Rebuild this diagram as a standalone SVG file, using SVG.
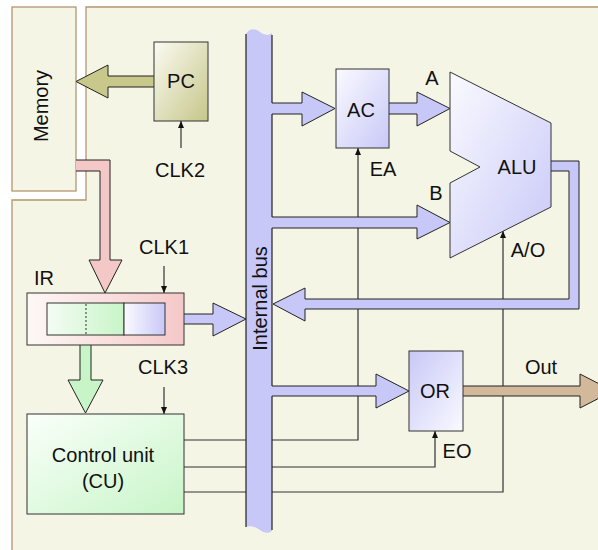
<svg xmlns="http://www.w3.org/2000/svg" width="598" height="550" viewBox="0 0 598 550">
<defs>
<style>
.t{font-family:"Liberation Sans",Arial,Helvetica,sans-serif;font-size:20px;fill:#111;text-anchor:middle}
.box{stroke:#333;stroke-width:1}
.ln{fill:none;stroke:#333;stroke-width:1.2}
.arr{stroke:#222;stroke-width:1;stroke-linejoin:miter}
</style>
<linearGradient id="gPC" x1="0" y1="0" x2="1" y2="1"><stop offset="0" stop-color="#fbfbf3"/><stop offset="1" stop-color="#c6c68a"/></linearGradient>
<linearGradient id="gLav" x1="0" y1="0" x2="1" y2="1"><stop offset="0" stop-color="#fafaff"/><stop offset="1" stop-color="#c8c8f8"/></linearGradient>
<linearGradient id="gLavR" x1="0" y1="0" x2="1" y2="1"><stop offset="0" stop-color="#c8c8f8"/><stop offset="1" stop-color="#fafaff"/></linearGradient>
<linearGradient id="gLavH" x1="0" y1="0" x2="1" y2="0"><stop offset="0" stop-color="#fafaff"/><stop offset="1" stop-color="#c8c8f8"/></linearGradient>
<linearGradient id="gPink" x1="0" y1="0" x2="1" y2="0"><stop offset="0" stop-color="#fdf8f6"/><stop offset="1" stop-color="#f5c8c8"/></linearGradient>
<linearGradient id="gGrnH" x1="0" y1="0" x2="1" y2="0"><stop offset="0" stop-color="#f4fcf4"/><stop offset="1" stop-color="#c8f5c8"/></linearGradient>
<linearGradient id="gGrn" x1="0" y1="0" x2="1" y2="1"><stop offset="0" stop-color="#fafffa"/><stop offset="1" stop-color="#c8f5c8"/></linearGradient>
<marker id="ah" markerUnits="userSpaceOnUse" markerWidth="8" markerHeight="8" refX="7" refY="3" orient="auto"><path d="M0,0 L7,3 L0,6 z" fill="#111"/></marker>
</defs>
<rect width="598" height="550" fill="#ffffff"/>
<path d="M86,7 H612 V560 H12 V200 H86 Z" fill="#f5f5e6" stroke="#b49470" stroke-width="1.3"/>

<g id="memory">
<rect x="12" y="7" width="64" height="184" fill="#f5f5e6" stroke="#b49470" stroke-width="1.3"/>
<text class="t" transform="translate(47.5,106) rotate(-90)">Memory</text>
</g>

<g id="connectors">
<path class="ln" d="M184,440 H358 V148" marker-end="url(#ah)"/>
<path class="ln" d="M184,467 H435 V431" marker-end="url(#ah)"/>
<path class="ln" d="M184,492 H503 V231" marker-end="url(#ah)"/>
<path class="ln" d="M164,266 V293" marker-end="url(#ah)"/>
<path class="ln" d="M181,148 V121" marker-end="url(#ah)"/>
<path class="ln" d="M164,387 V414" marker-end="url(#ah)"/>
</g>

<g id="bus">
<path d="M246,34 C250,27 256,29 260,32 C264,35 268,36 272,33 L272,531 C268,534 264,533 260,530 C256,527 250,525 246,527 Z" fill="#c8c8f8"/>
<path d="M246,34 V527 M272,35 V103 M272,114 V217 M272,228 V386 M272,396 V530" fill="none" stroke="#222" stroke-width="1.2"/>
<text class="t" transform="translate(267,298.5) rotate(-90)">Internal bus</text>
</g>

<g id="bus-arrows">
<path class="arr" fill="#c8c88a" d="M154,76 H108 V65 L76,81.5 L108,98 V87 H154"/>
<path class="arr" fill="#f5c8c8" d="M76,160 H110 V260 H122 L105,293 L89,260 H100 V171 H76"/>
<path class="arr" fill="#c8c8f8" d="M165,314 H213 V303 L246,319 L213,336 V324 H165"/>
<path class="arr" fill="#c8f5c8" d="M80,335 V380 H68 L85.5,413 L103,380 H91 V335"/>
<path class="arr" fill="#c8c8f8" d="M272,103 H302 V92 L335,108.5 L302,126 V114 H272"/>
<path class="arr" fill="#c8c8f8" d="M389,103 H417 V92 L450,108.5 L417,126 V114 H389"/>
<path class="arr" fill="#c8c8f8" d="M272,217 H417 V205 L450,222.5 L417,239 V228 H272"/>
<path class="arr" fill="#c8c8f8" d="M272,386 H376 V374 L409,391 L376,408 V396 H272"/>
<path class="arr" fill="#c8c8f8" d="M551,161 H579 V309 H305 V321 L273,304 L305,288 V299 H569 V171 H551"/>
<path class="arr" fill="#d2b99c" d="M463,386 H580 V374 L613,391 L580,408 V396 H463"/>
</g>

<g id="pc">
<rect class="box" x="154" y="42" width="54" height="79" fill="url(#gPC)"/>
<text class="t" x="181" y="88">PC</text>
<text class="t" x="180" y="177">CLK2</text>
</g>

<g id="ac">
<rect class="box" x="336" y="69" width="53" height="79" fill="url(#gLav)"/>
<text class="t" x="361" y="117">AC</text>
<text class="t" x="383" y="176">EA</text>
</g>

<g id="alu">
<polygon class="box" points="450,72 551,123 551,207 450,258 450,183 480,167 450,151" fill="url(#gLav)"/>
<text class="t" x="517" y="174">ALU</text>
<text class="t" x="432" y="85">A</text>
<text class="t" x="436" y="200">B</text>
<text class="t" x="528" y="257">A/O</text>
</g>

<g id="ir">
<rect class="box" x="27" y="293" width="157" height="52" fill="url(#gPink)"/>
<rect class="box" x="47" y="303" width="77" height="32" fill="url(#gGrnH)"/>
<rect class="box" x="124" y="303" width="41" height="32" fill="url(#gLavH)"/>
<line x1="86" y1="304" x2="86" y2="335" stroke="#333" stroke-width="1" stroke-dasharray="2,2"/>
<text class="t" x="44" y="285">IR</text>
<text class="t" x="164" y="254">CLK1</text>
</g>

<g id="cu">
<rect class="box" x="27" y="414" width="157" height="100" fill="url(#gGrn)"/>
<text class="t" x="103" y="462">Control unit</text>
<text class="t" x="103" y="488">(CU)</text>
<text class="t" x="163" y="374">CLK3</text>
</g>

<g id="or">
<rect class="box" x="409" y="351" width="54" height="80" fill="url(#gLavR)"/>
<text class="t" x="435" y="398">OR</text>
<text class="t" x="457" y="458">EO</text>
<text class="t" x="541" y="374">Out</text>
</g>
</svg>
